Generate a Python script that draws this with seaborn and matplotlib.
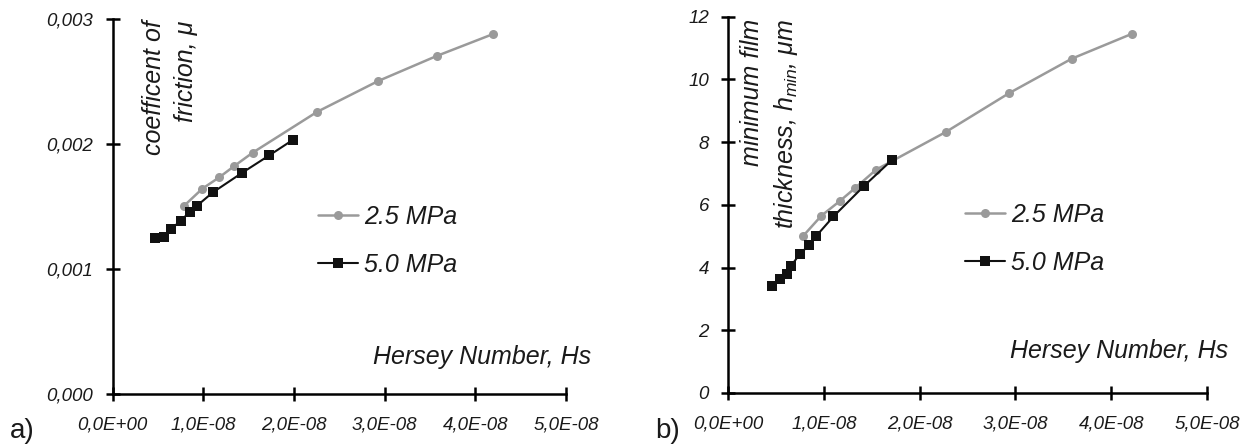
import numpy as np
import pandas as pd
import matplotlib
matplotlib.use("Agg")
import matplotlib.pyplot as plt
from matplotlib.ticker import FuncFormatter
import seaborn as sns

# --- data ---
hs_25_a = [0.785e-8, 0.989e-8, 1.174e-8, 1.341e-8, 1.544e-8, 2.256e-8, 2.928e-8, 3.572e-8, 4.196e-8]
mu_25 = [0.001504, 0.001643, 0.001733, 0.001824, 0.001931, 0.002258, 0.002504, 0.002704, 0.00288]
hs_50_a = [0.463e-8, 0.563e-8, 0.644e-8, 0.748e-8, 0.852e-8, 0.926e-8, 1.104e-8, 1.430e-8, 1.726e-8, 1.985e-8]
mu_50 = [0.001251, 0.001259, 0.001317, 0.001387, 0.001456, 0.001504, 0.001613, 0.001771, 0.001909, 0.002032]

hs_25_b = [0.783e-8, 0.972e-8, 1.169e-8, 1.323e-8, 1.544e-8, 2.271e-8, 2.933e-8, 3.588e-8, 4.222e-8]
h_25 = [5.01, 5.65, 6.13, 6.53, 7.12, 8.32, 9.56, 10.66, 11.46]
hs_50_b = [0.457e-8, 0.544e-8, 0.614e-8, 0.656e-8, 0.744e-8, 0.842e-8, 0.920e-8, 1.099e-8, 1.421e-8, 1.713e-8]
h_50 = [3.41, 3.62, 3.81, 4.05, 4.42, 4.71, 5.01, 5.63, 6.61, 7.44]

series_labels = ["2.5 MPa", "5.0 MPa"]
x_ticks = [0, 1e-8, 2e-8, 3e-8, 4e-8, 5e-8]
mu_ticks = [0, 0.001, 0.002, 0.003]
h_ticks = [0, 2, 4, 6, 8, 10, 12]

sns.set_style("ticks")
plt.rcParams["font.family"] = ["Liberation Sans", "DejaVu Sans"]
plt.rcParams["mathtext.fontset"] = "custom"
plt.rcParams["mathtext.it"] = "Liberation Sans:italic"
plt.rcParams["mathtext.rm"] = "Liberation Sans"

GRAY = "#9a9a9a"
BLACK = "#111111"
TXT = "#1a1a1a"

fig = plt.figure(figsize=(12.55, 4.48), dpi=100)
ax1 = fig.add_axes([0.0898, 0.1205, 0.3612, 0.837])
ax2 = fig.add_axes([0.5803, 0.1228, 0.3814, 0.840])


def draw(ax, hs25, y25, hs50, y50, xlab_pos):
    sns.lineplot(x=hs25, y=y25, ax=ax, color=GRAY, marker="o", markersize=6.5,
                 markeredgewidth=0, linewidth=1.8, estimator=None, sort=False,
                 label=series_labels[0], clip_on=False)
    sns.lineplot(x=hs50, y=y50, ax=ax, color=BLACK, marker="s", markersize=7,
                 markeredgewidth=0, linewidth=1.5, estimator=None, sort=False,
                 label=series_labels[1], clip_on=False)
    for s in ["top", "right"]:
        ax.spines[s].set_visible(False)
    for s in ["left", "bottom"]:
        ax.spines[s].set_linewidth(1.8)
        ax.spines[s].set_color("black")
    ax.set_xlim(0, 5e-8)
    ax.set_xticks(x_ticks)
    ax.xaxis.set_major_formatter(FuncFormatter(lambda v, p: f"{v:.1E}".replace(".", ",")))
    ax.tick_params(bottom=True, left=True, direction="inout", length=10, width=1.8,
                   color="black", labelsize=13.5, labelcolor=TXT)
    ax.tick_params(axis="x", pad=11)
    ax.tick_params(axis="y", pad=9)
    for lab in ax.get_xticklabels() + ax.get_yticklabels():
        lab.set_fontstyle("italic")
    ax.set_xlabel("")
    ax.set_ylabel("")
    ax.text(xlab_pos[0], xlab_pos[1], "Hersey Number, Hs", transform=ax.transAxes,
            fontsize=18, fontstyle="italic", color=TXT, ha="left", va="baseline")


ax1.set_ylim(0, 0.003)
ax1.set_yticks(mu_ticks)
ax1.yaxis.set_major_formatter(FuncFormatter(lambda v, p: f"{v:.3f}".replace(".", ",")))
draw(ax1, hs_25_a, mu_25, hs_50_a, mu_50, (0.575, 0.08))

ax2.set_ylim(0, 12)
ax2.set_yticks(h_ticks)
ax2.yaxis.set_major_formatter(FuncFormatter(lambda v, p: f"{v:.0f}"))
draw(ax2, hs_25_b, h_25, hs_50_b, h_50, (0.588, 0.0935))

for ax, pos in [(ax1, (0.453, 0.504)), (ax2, (0.494, 0.505))]:
    leg = ax.legend(loc="upper left", bbox_to_anchor=pos, frameon=False,
                    prop={"family": "Liberation Sans", "style": "italic", "size": 18},
                    handlelength=1.6, handletextpad=0.25, labelspacing=0.95,
                    borderpad=0, borderaxespad=0)
    for t in leg.get_texts():
        t.set_color(TXT)

ax1.text(0.126, 0.997, "coefficent of\nfriction, μ", transform=ax1.transAxes,
         rotation=90, ha="center", va="top", multialignment="right",
         fontsize=18, fontstyle="italic", color=TXT, linespacing=1.4)
ax2.text(0.087, 0.994, "minimum film\nthickness, $h_{min}$, μm", transform=ax2.transAxes,
         rotation=90, ha="center", va="top", multialignment="right",
         fontsize=18, fontstyle="italic", color=TXT, linespacing=1.4)

fig.text(10 / 1255, 10 / 448, "a)", fontsize=20, color=TXT, ha="left", va="baseline")
fig.text(655 / 1255, 10 / 448, "b)", fontsize=20, color=TXT, ha="left", va="baseline")

fig.savefig("out.png", dpi=100, facecolor="white")
